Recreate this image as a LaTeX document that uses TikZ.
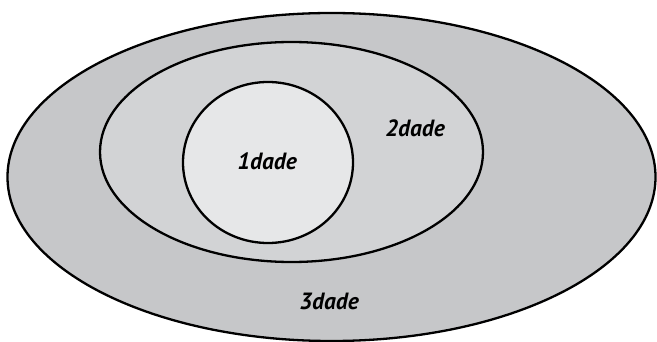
\documentclass[tikz,border=0pt]{standalone}
\usepackage{fontspec}
\setmainfont{PT Sans}
\usetikzlibrary{shapes.geometric}
\definecolor{outerc}{HTML}{C6C7C9}
\definecolor{midc}{HTML}{D2D3D5}
\definecolor{innerc}{HTML}{E6E7E8}
\begin{document}
\begin{tikzpicture}[x=1pt,y=-1pt,
  ring/.style={ellipse, draw=black, line width=2.3pt, inner sep=0pt},
  lab/.style={font=\fontsize{23.5}{28}\selectfont\bfseries\itshape, inner sep=0pt}]
\useasboundingbox (0,0) rectangle (657,342);
\node[ring, fill=outerc, minimum width=648pt, minimum height=328pt] (outer) at (331.5,177) {};
\node[ring, fill=midc, minimum width=383pt, minimum height=220pt] (mid) at (291.5,152) {};
\node[ring, fill=innerc, minimum width=170pt, minimum height=161pt] (inner) at (268,162.5) {};
\node[lab] (l1) at (267,161) {1dade};
\node[lab] (l2) at (415,128) {2dade};
\node[lab] (l3) at (329,301) {3dade};
\end{tikzpicture}
\end{document}
